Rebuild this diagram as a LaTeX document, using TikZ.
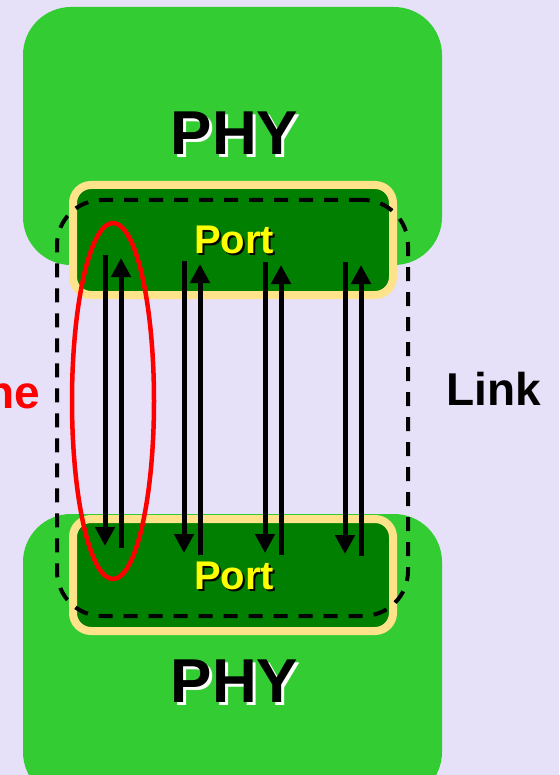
\documentclass[tikz,border=0pt]{standalone}
\usepackage{fontspec}
\setmainfont{Liberation Sans}
\usetikzlibrary{shapes.geometric, arrows.meta, positioning}
\definecolor{bglavender}{HTML}{E6E0F8}
\definecolor{phygreen}{HTML}{33CC33}
\definecolor{portgreen}{HTML}{007F00}
\definecolor{portrim}{HTML}{FFE38A}
\definecolor{portyellow}{HTML}{FFFF00}
% text with a drop shadow: #1 shadow colour, #2 offset, #3 text
\newcommand{\shadowed}[3]{\makebox[0pt][l]{\hspace{#2}\raisebox{-#2}{\textcolor{#1}{#3}}}#3}

\begin{document}
\begin{tikzpicture}[x=1pt, y=-1pt, font=\bfseries,
    phybox/.style={fill=phygreen, rounded corners=48pt, minimum width=419pt, inner sep=0pt},
    portbox/.style={draw=portrim, line width=8pt, fill=portgreen, rounded corners=18pt, minimum width=320pt, inner sep=0pt},
    lanearrow/.style={line width=5pt, -{Triangle[length=19pt, width=19pt]}}]
\useasboundingbox (0,0) rectangle (559,775);
\fill[bglavender] (0,0) rectangle (559,775);
% the two PHYs
\node[phybox, minimum height=258pt] (phytop) at (232.5,136) {};
\node[phybox, minimum height=286pt] (phybot) at (232.5,657) {};
\node[anchor=base, font=\fontsize{62}{62}\bfseries] (phytoplabel) at (234.5,155) {\shadowed{white}{3pt}{PHY}};
\node[anchor=base, font=\fontsize{62}{62}\bfseries] (phybotlabel) at (234.5,702) {\shadowed{white}{3pt}{PHY}};
% ports
\node[portbox, minimum height=110pt] (porttop) at (233,240) {};
\node[portbox, minimum height=112pt] (portbot) at (233,575) {};
\node[anchor=base, font=\fontsize{40}{40}\bfseries, text=portyellow] (porttoplabel) at (234,254) {\shadowed{black}{2pt}{Port}};
\node[anchor=base, font=\fontsize{40}{40}\bfseries, text=portyellow] (portbotlabel) at (234,589) {\shadowed{black}{2pt}{Port}};
% lanes
\foreach \n/\xd/\xu/\yt/\yb in {1/105/121/255/546, 2/184/200/261/553, 3/265/281/262/553, 4/345/361/262/554}{
  \coordinate (dtop\n) at (\xd,\yt);
  \coordinate (dbot\n) at (\xd,\yb);
  \coordinate (utop\n) at (\xu,\yt+3);
  \coordinate (ubot\n) at (\xu,\yb+2);
  \draw[lanearrow] (dtop\n) -- (dbot\n);
  \draw[lanearrow] (ubot\n) -- (utop\n);
}
% link and lane
\node[draw, dashed, dash pattern=on 14pt off 11pt, line width=4pt, rounded corners=45pt, minimum width=351pt, minimum height=416pt] (link) at (232.5,408) {};
\node[draw=red, line width=4.5pt, ellipse, minimum width=82pt, minimum height=356pt, inner sep=0pt] (lane) at (113,401) {};
\node[anchor=base west, font=\fontsize{46}{46}\bfseries] (linklabel) at (443,405) {Link};
\node[anchor=base east, font=\fontsize{46}{46}\bfseries, text=red] (lanelabel) at (44,408) {Lane};
\end{tikzpicture}
\end{document}
